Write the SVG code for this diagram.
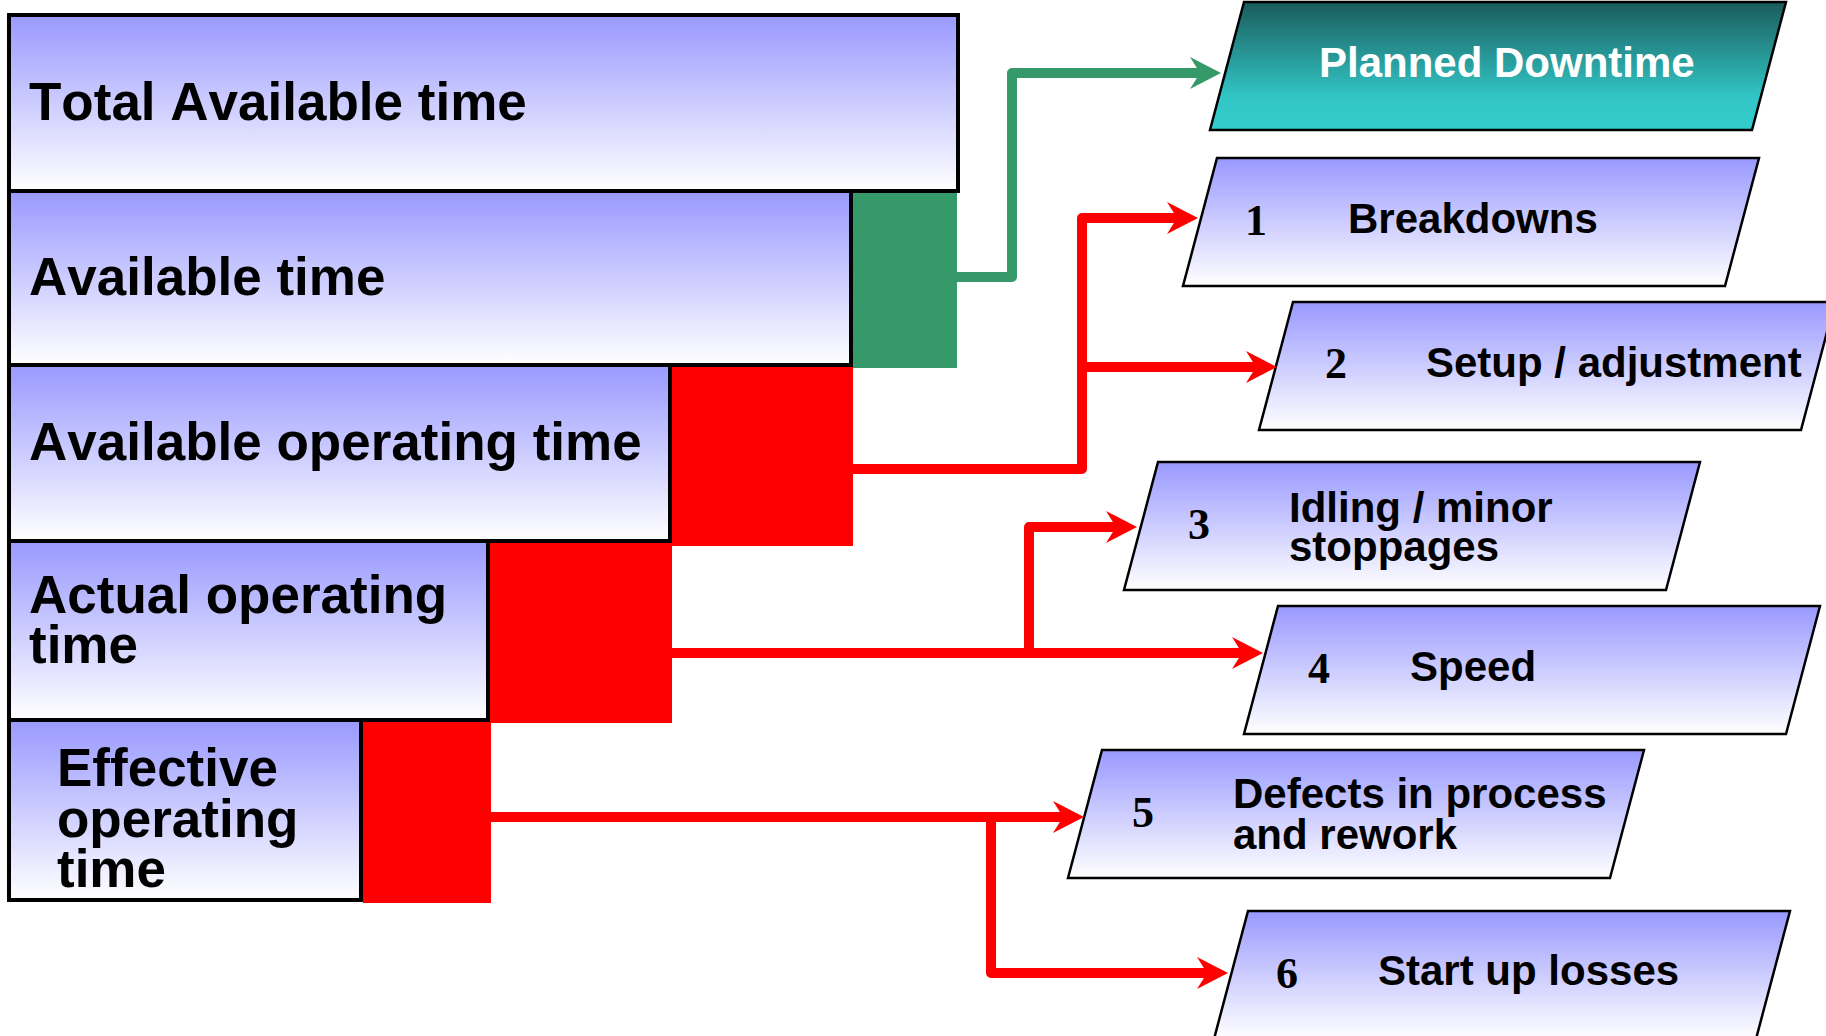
<svg xmlns="http://www.w3.org/2000/svg" width="1826" height="1036" viewBox="0 0 1826 1036">
<defs>
<linearGradient id="gBlue" x1="0" y1="0" x2="0" y2="1">
<stop offset="0" stop-color="#9999FF"/>
<stop offset="1" stop-color="#FFFFFF"/>
</linearGradient>
<linearGradient id="gTeal" x1="0" y1="0" x2="0" y2="1">
<stop offset="0" stop-color="#1A5C5C"/>
<stop offset="0.75" stop-color="#33C6C6"/>
<stop offset="1" stop-color="#33CCCC"/>
</linearGradient>
<marker id="arrR" viewBox="0 0 31 32" refX="11" refY="16" markerWidth="31" markerHeight="32" markerUnits="userSpaceOnUse" orient="auto">
<path d="M0,0 L31,16 L0,32 L10,16 Z" fill="#FF0000"/>
</marker>
<marker id="arrG" viewBox="0 0 31 32" refX="11" refY="16" markerWidth="31" markerHeight="32" markerUnits="userSpaceOnUse" orient="auto">
<path d="M0,0 L31,16 L0,32 L10,16 Z" fill="#36996A"/>
</marker>
</defs>
<style>
text{font-kerning:none}
.box{fill:url(#gBlue);stroke:#000;stroke-width:4}
.para{fill:url(#gBlue);stroke:#000;stroke-width:2.5}
.teal{fill:url(#gTeal);stroke:#000;stroke-width:2.5}
.red{fill:#FF0000}
.green{fill:#36996A}
.big{font-family:"Liberation Sans",Arial,sans-serif;font-weight:bold;font-size:53px;fill:#000}
.lbl{font-family:"Liberation Sans",Arial,sans-serif;font-weight:bold;font-size:42px;fill:#000}
.wht{fill:#FFFFFF}
.num{font-family:"Liberation Serif","Times New Roman",serif;font-weight:bold;font-size:44px;fill:#000}
.cr{fill:none;stroke:#FF0000;stroke-width:10;stroke-linejoin:round}
.cg{fill:none;stroke:#36996A;stroke-width:10;stroke-linejoin:round}
</style>
<rect width="1826" height="1036" fill="#FFFFFF"/>

<g id="loss-blocks">
<rect class="green" x="853" y="192" width="104" height="176"/>
<rect class="red" x="672" y="367" width="181" height="179"/>
<rect class="red" x="490" y="543" width="182" height="180"/>
<rect class="red" x="363" y="722" width="128" height="181"/>
</g>

<g id="total-available-time">
<rect class="box" x="9" y="15" width="949" height="176"/>
<text class="big" x="29" y="120">Total Available time</text>
</g>
<g id="available-time">
<rect class="box" x="9" y="191" width="842" height="174"/>
<text class="big" x="29" y="295">Available time</text>
</g>
<g id="available-operating-time">
<rect class="box" x="9" y="365" width="661" height="176"/>
<text class="big" x="29" y="460">Available operating time</text>
</g>
<g id="actual-operating-time">
<rect class="box" x="9" y="541" width="479" height="179"/>
<text class="big" x="29" y="613">Actual operating</text>
<text class="big" x="29" y="663">time</text>
</g>
<g id="effective-operating-time">
<rect class="box" x="9" y="720" width="352" height="180"/>
<text class="big" x="57" y="786">Effective</text>
<text class="big" x="57" y="837">operating</text>
<text class="big" x="57" y="887">time</text>
</g>

<g id="planned-downtime">
<polygon class="teal" points="1244,2 1786,2 1752,130 1210,130"/>
<text class="lbl wht" x="1319" y="77">Planned Downtime</text>
</g>
<g id="breakdowns">
<polygon class="para" points="1217,158 1759,158 1725,286 1183,286"/>
<text class="num" x="1245" y="235">1</text>
<text class="lbl" x="1348" y="233">Breakdowns</text>
</g>
<g id="setup-adjustment">
<polygon class="para" points="1293,302 1835,302 1801,430 1259,430"/>
<text class="num" x="1325" y="378">2</text>
<text class="lbl" x="1426" y="377">Setup / adjustment</text>
</g>
<g id="idling-minor-stoppages">
<polygon class="para" points="1158,462 1700,462 1666,590 1124,590"/>
<text class="num" x="1188" y="539">3</text>
<text class="lbl" x="1289" y="522">Idling / minor</text>
<text class="lbl" x="1289" y="561">stoppages</text>
</g>
<g id="speed">
<polygon class="para" points="1278,606 1820,606 1786,734 1244,734"/>
<text class="num" x="1308" y="683">4</text>
<text class="lbl" x="1410" y="681">Speed</text>
</g>
<g id="defects-rework">
<polygon class="para" points="1102,750 1644,750 1610,878 1068,878"/>
<text class="num" x="1132" y="827">5</text>
<text class="lbl" x="1233" y="808">Defects in process</text>
<text class="lbl" x="1233" y="849">and rework</text>
</g>
<g id="start-up-losses">
<polygon class="para" points="1248,911 1790,911 1756,1039 1214,1039"/>
<text class="num" x="1276" y="988">6</text>
<text class="lbl" x="1378" y="985">Start up losses</text>
</g>

<g id="connectors">
<path class="cg" d="M957,277 H1012 V73 H1201" marker-end="url(#arrG)"/>
<path class="cr" d="M852,469 H1082 V218 H1178" marker-end="url(#arrR)"/>
<path class="cr" d="M1082,367 H1257" marker-end="url(#arrR)"/>
<path class="cr" d="M672,653 H1243" marker-end="url(#arrR)"/>
<path class="cr" d="M1029,653 V527 H1117" marker-end="url(#arrR)"/>
<path class="cr" d="M490,817 H1064" marker-end="url(#arrR)"/>
<path class="cr" d="M991,817 V973 H1208" marker-end="url(#arrR)"/>
</g>
</svg>
